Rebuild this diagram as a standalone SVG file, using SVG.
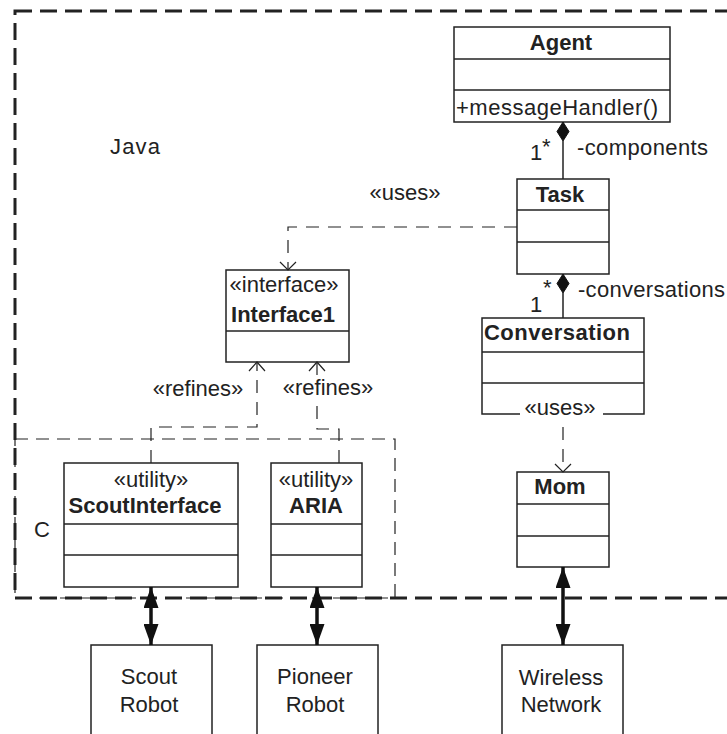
<svg xmlns="http://www.w3.org/2000/svg" width="727" height="734" viewBox="0 0 727 734">
  <style>
    text { font-family: "Liberation Sans", Arial, sans-serif; font-size: 22px; fill: #222; }
    .b { font-weight: bold; }
    .mid { text-anchor: middle; }
    .box { fill: #fff; stroke: #222; stroke-width: 1.5; }
    .sep { stroke: #222; stroke-width: 1.5; }
    .frame { fill: none; stroke: #222; stroke-width: 3; stroke-dasharray: 17 8; }
    .subframe { fill: none; stroke: #222; stroke-width: 1.2; stroke-dasharray: 13 8; }
    .dep { fill: none; stroke: #222; stroke-width: 1.2; stroke-dasharray: 13 9; }
    .open { fill: none; stroke: #222; stroke-width: 1.2; }
    .assoc { stroke: #222; stroke-width: 1.5; }
    .diamond { fill: #111; stroke: #111; stroke-width: 1; }
    .link { stroke: #111; stroke-width: 3.5; marker-start: url(#head); marker-end: url(#head); }
  </style>
  <defs>
    <marker id="head" viewBox="0 0 21 15" refX="21" refY="7.5" markerWidth="21" markerHeight="15" markerUnits="userSpaceOnUse" orient="auto-start-reverse">
      <path d="M0,0 L21,7.5 L0,15 z" fill="#111"/>
    </marker>
  </defs>
  <rect width="727" height="734" fill="#fff"/>

  <!-- package frames -->
  <g id="frame-java">
    <rect class="frame" x="15" y="11" width="740" height="587"/>
    <text x="110" y="154" textLength="50">Java</text>
  </g>
  <g id="frame-c">
    <rect class="subframe" x="15" y="439" width="380" height="159"/>
    <text x="34" y="537">C</text>
  </g>

  <!-- classes -->
  <g id="agent">
    <rect class="box" x="454" y="27" width="216" height="95"/>
    <line class="sep" x1="454" y1="59" x2="670" y2="59"/>
    <line class="sep" x1="454" y1="90" x2="670" y2="90"/>
    <text class="b mid" x="561" y="50">Agent</text>
    <text x="456" y="115" textLength="202">+messageHandler()</text>
  </g>
  <g id="task">
    <rect class="box" x="517" y="179" width="92" height="95"/>
    <line class="sep" x1="517" y1="210" x2="609" y2="210"/>
    <line class="sep" x1="517" y1="242" x2="609" y2="242"/>
    <text class="b mid" x="560" y="202">Task</text>
  </g>
  <g id="conversation">
    <path class="box" d="M520,414 H482 V318 H644 V414 H603"/>
    <line class="sep" x1="482" y1="352" x2="644" y2="352"/>
    <line class="sep" x1="482" y1="383" x2="644" y2="383"/>
    <text class="b" x="484" y="340" textLength="146">Conversation</text>
  </g>
  <g id="mom">
    <rect class="box" x="517" y="472" width="92" height="95"/>
    <line class="sep" x1="517" y1="504" x2="609" y2="504"/>
    <line class="sep" x1="517" y1="536" x2="609" y2="536"/>
    <text class="b mid" x="560" y="494">Mom</text>
  </g>
  <g id="interface1">
    <rect class="box" x="226" y="270" width="123" height="92"/>
    <line class="sep" x1="226" y1="331" x2="349" y2="331"/>
    <text class="mid" x="284" y="292">«interface»</text>
    <text class="b mid" x="283" y="322">Interface1</text>
  </g>
  <g id="scout-interface">
    <rect class="box" x="64" y="463" width="174" height="124"/>
    <line class="sep" x1="64" y1="524" x2="238" y2="524"/>
    <line class="sep" x1="64" y1="555" x2="238" y2="555"/>
    <text class="mid" x="151" y="487">«utility»</text>
    <text class="b mid" x="145" y="513">ScoutInterface</text>
  </g>
  <g id="aria">
    <rect class="box" x="271" y="463" width="91" height="124"/>
    <line class="sep" x1="271" y1="524" x2="362" y2="524"/>
    <line class="sep" x1="271" y1="555" x2="362" y2="555"/>
    <text class="mid" x="316" y="487">«utility»</text>
    <text class="b mid" x="316" y="513">ARIA</text>
  </g>

  <!-- external devices -->
  <g id="scout-robot">
    <rect class="box" x="91" y="645" width="121" height="100"/>
    <text class="mid" x="149" y="684">Scout</text>
    <text class="mid" x="149" y="712">Robot</text>
  </g>
  <g id="pioneer-robot">
    <rect class="box" x="257" y="645" width="121" height="100"/>
    <text class="mid" x="315" y="684">Pioneer</text>
    <text class="mid" x="315" y="712">Robot</text>
  </g>
  <g id="wireless-network">
    <rect class="box" x="502" y="645" width="121" height="100"/>
    <text class="mid" x="561" y="685">Wireless</text>
    <text class="mid" x="561" y="712">Network</text>
  </g>

  <!-- connectors -->
  <g id="connectors">
    <!-- Agent composes Task -->
    <line class="assoc" x1="563" y1="141" x2="563" y2="179"/>
    <path class="diamond" d="M563,122 L569,131.5 L563,141 L557,131.5 z"/>
    <text x="542" y="154">*</text>
    <text x="530" y="160">1</text>
    <text x="577" y="155" textLength="131">-components</text>

    <!-- Task composes Conversation -->
    <line class="assoc" x1="563" y1="293" x2="563" y2="318"/>
    <path class="diamond" d="M563,274 L569,283.5 L563,293 L557,283.5 z"/>
    <text x="543" y="295">*</text>
    <text x="530" y="312">1</text>
    <text x="578" y="297" textLength="147">-conversations</text>

    <!-- Task uses Interface1 -->
    <polyline class="dep" points="517,227 288,227 288,270"/>
    <polyline class="open" points="280,262 288,270 296,262"/>
    <text class="mid" x="405" y="200">«uses»</text>

    <!-- Conversation uses Mom -->
    <line class="dep" x1="563" y1="427" x2="563" y2="472"/>
    <polyline class="open" points="555,464 563,472 571,464"/>
    <text class="mid" x="560" y="415">«uses»</text>

    <!-- ScoutInterface refines Interface1 -->
    <polyline class="dep" points="151,463 151,427 257,427 257,362"/>
    <polyline class="open" points="249,371 257,362 265,371"/>
    <text class="mid" x="198" y="396">«refines»</text>

    <!-- ARIA refines Interface1 -->
    <polyline class="dep" points="339,463 339,429 317,429 317,406"/>
    <line class="dep" x1="317" y1="362" x2="317" y2="375"/>
    <polyline class="open" points="309,371 317,362 325,371"/>
    <text class="mid" x="328" y="395">«refines»</text>

    <!-- hardware links -->
    <line class="link" x1="151" y1="587" x2="151" y2="645"/>
    <line class="link" x1="317" y1="587" x2="317" y2="645"/>
    <line class="link" x1="563" y1="567" x2="563" y2="645"/>
  </g>
</svg>
